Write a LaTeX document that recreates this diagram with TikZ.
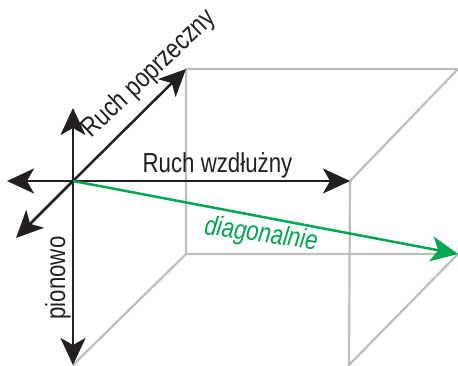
\documentclass[tikz,border=0pt]{standalone}
\usepackage{fontspec}
\setmainfont[FakeStretch=0.81]{Liberation Sans}
\usetikzlibrary{arrows.meta}
\definecolor{inkblack}{HTML}{231F20}
\definecolor{boxgray}{HTML}{BCBEC0}
\definecolor{diaggreen}{HTML}{00A651}
\tikzset{
  x=1pt,y=-1pt,
  boxline/.style={draw=boxgray,line width=2.2pt,line join=miter},
  axis/.style={draw=inkblack,line width=2.5pt,-{Stealth[length=27pt,width=25pt,inset=7pt]}},
  diag/.style={draw=diaggreen,line width=2.5pt,-{Stealth[length=27pt,width=25pt,inset=7pt]}},
  lbl/.style={inner sep=0pt,text=inkblack,font=\fontsize{27.5}{27.5}\selectfont},
  glbl/.style={inner sep=0pt,text=diaggreen,font=\fontsize{27.5}{27.5}\selectfont\itshape},
}
\begin{document}
\begin{tikzpicture}
\useasboundingbox (0,0) rectangle (458,365);
\coordinate (o) at (73,181);
\coordinate (up) at (73,108);
\coordinate (left) at (7,181);
\coordinate (dl) at (16,238);
\coordinate (bt) at (186,69);
\coordinate (tr) at (458,69);
\coordinate (fr) at (350,181);
\coordinate (bb) at (186,254);
\coordinate (br) at (458,254);
\coordinate (down) at (73,365);
\coordinate (fb) at (349,365);
\draw[boxline] (fr) -- (tr) -- (bt) -- (bb) -- (br) -- (fb) -- (fr);
\draw[boxline] (bb) -- (down);
\draw[axis] (o) -- (up);
\draw[axis] (o) -- (left);
\draw[axis] (o) -- (dl);
\draw[axis] (o) -- (bt);
\draw[axis] (o) -- (fr);
\draw[axis] (o) -- (down);
\draw[diag] (o) -- (br);
\node[lbl,rotate=43.5] (poprz) at (149.5,74) {Ruch poprzeczny};
\node[lbl] (wzd) at (217.5,165) {Ruch wzdłużny};
\node[lbl,rotate=90] (pion) at (58,278) {pionowo};
\node[glbl,rotate=-8] (dg) at (261,235) {diagonalnie};
\end{tikzpicture}
\end{document}
